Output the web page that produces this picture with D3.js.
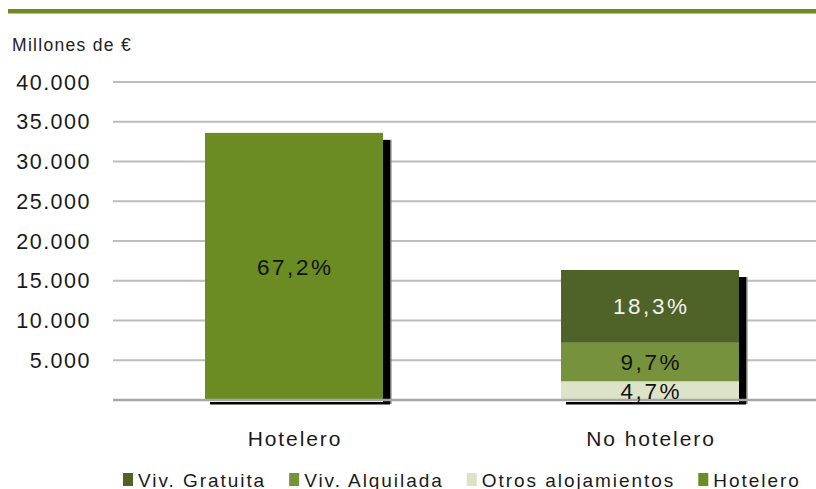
<!DOCTYPE html>
<html>
<head>
<meta charset="utf-8">
<script src="https://cdn.jsdelivr.net/npm/d3@7"></script>
<style>
  body { margin: 0; background: #fff; }
  svg { display: block; font-family: "Liberation Sans", Arial, sans-serif; }
</style>
</head>
<body>
<svg id="chart" width="816" height="489"></svg>
<script>
// data
var categories = ["Hotelero", "No hotelero"];
var seriesNames = ["Otros alojamientos", "Viv. Alquilada", "Viv. Gratuita", "Hotelero"];
var seriesColors = ["#dde3c6", "#77923c", "#4f6228", "#6b8c23"];
var labelColors = ["#111", "#111", "#f2f2f2", "#111"];
// values in millones de euros, per category
var otros     = [0, 2350];
var alquilada = [0, 4850];
var gratuita  = [0, 9150];
var hotelero  = [33600, 0];
var pctLabels = [["", "4,7%"], ["", "9,7%"], ["", "18,3%"], ["67,2%", ""]];
var yTicks = [5000, 10000, 15000, 20000, 25000, 30000, 35000, 40000];
var legendOrder = [2, 1, 0, 3];

var svg = d3.select("#chart");
var W = 816;

var loc = d3.formatLocale({decimal: ",", thousands: ".", grouping: [3], currency: ["", " €"]});
var fmt = loc.format(",d");

var y = d3.scaleLinear().domain([0, 40000]).range([400, 82]);
var x = d3.scaleBand().domain(categories).range([116, 828]).paddingInner(0.5).paddingOuter(0.25);

// top rule
svg.append("rect").attr("x", 8).attr("y", 9).attr("width", W - 8).attr("height", 4.5).attr("fill", "#6b8c23");

svg.append("text").attr("x", 12).attr("y", 51).attr("font-size", 17.5).attr("fill", "#222")
  .attr("letter-spacing", 1.3).text("Millones de €");

// gridlines
svg.selectAll(".grid").data(yTicks).enter().append("line")
  .attr("class", "grid")
  .attr("x1", 113).attr("x2", W)
  .attr("y1", function(d){ return y(d); }).attr("y2", function(d){ return y(d); })
  .attr("stroke", "#bdbdbd").attr("stroke-width", 2);

// y tick labels
svg.selectAll(".ytick").data(yTicks).enter().append("text")
  .attr("class", "ytick")
  .attr("x", 91).attr("y", function(d){ return y(d); }).attr("dy", "0.36em")
  .attr("text-anchor", "end").attr("font-size", 21.5).attr("letter-spacing", 1.5).attr("fill", "#1a1a1a")
  .text(function(d){ return fmt(d); });

var stackData = categories.map(function(c, i){
  return {cat: c, s0: otros[i], s1: alquilada[i], s2: gratuita[i], s3: hotelero[i]};
});
var stack = d3.stack().keys(["s0", "s1", "s2", "s3"]);
var layers = stack(stackData);

// shadows
categories.forEach(function(c, i){
  var total = otros[i] + alquilada[i] + gratuita[i] + hotelero[i];
  var x0 = x(c), bw = x.bandwidth();
  svg.append("rect").attr("x", x0 + bw).attr("y", y(total) + 7).attr("width", 7)
    .attr("height", y(0) - y(total) - 3).attr("fill", "#000");
  svg.append("rect").attr("x", x0 + bw + 7).attr("y", y(total) + 7).attr("width", 1.5)
    .attr("height", y(0) - y(total) - 3).attr("fill", "#777");
  svg.append("rect").attr("x", x0 + 5).attr("y", y(0) + 2).attr("width", bw + 2)
    .attr("height", 2.5).attr("fill", "#000");
});

// bars
layers.forEach(function(layer, k){
  svg.selectAll(".bar" + k).data(layer).enter().append("rect")
    .attr("x", function(d){ return x(d.data.cat); })
    .attr("y", function(d){ return y(d[1]); })
    .attr("width", x.bandwidth())
    .attr("height", function(d){ return y(d[0]) - y(d[1]); })
    .attr("fill", seriesColors[k]);
});

// baseline
svg.append("line").attr("x1", 113).attr("x2", W).attr("y1", 400).attr("y2", 400)
  .attr("stroke", "#a6a6a6").attr("stroke-width", 2.5);

// value labels
layers.forEach(function(layer, k){
  layer.forEach(function(d, i){
    if (!pctLabels[k][i]) return;
    svg.append("text")
      .attr("x", x(d.data.cat) + x.bandwidth() / 2 + 1.3)
      .attr("y", (y(d[0]) + y(d[1])) / 2).attr("dy", "0.36em")
      .attr("text-anchor", "middle").attr("font-size", 22.5).attr("letter-spacing", 2.6)
      .attr("fill", labelColors[k]).text(pctLabels[k][i]);
  });
});

// category labels
svg.selectAll(".cat").data(categories).enter().append("text")
  .attr("x", function(d){ return x(d) + x.bandwidth() / 2 + 1; })
  .attr("y", 446).attr("text-anchor", "middle").attr("font-size", 21).attr("letter-spacing", 1.9)
  .attr("fill", "#1a1a1a").text(function(d){ return d; });

// legend
var lx = 123;
legendOrder.forEach(function(k){
  svg.append("rect").attr("x", lx).attr("y", 473).attr("width", 10).attr("height", 13).attr("fill", seriesColors[k]);
  var t = svg.append("text").attr("x", lx + 15).attr("y", 487).attr("font-size", 19).attr("letter-spacing", 1.95)
    .attr("fill", "#1a1a1a").text(seriesNames[k]);
  lx += 15 + t.node().getComputedTextLength() + 23;
});
</script>
</body>
</html>
